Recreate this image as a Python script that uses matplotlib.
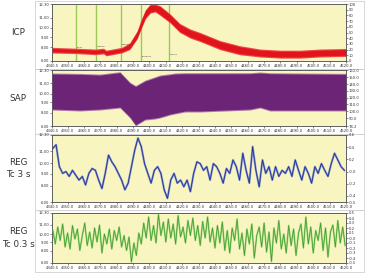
import numpy as np
import matplotlib.pyplot as plt
from matplotlib.patches import Rectangle

# time axis [s]
x_ticks = [4340.5, 4350, 4360, 4370, 4380, 4390, 4400, 4410, 4420, 4430, 4440,
           4450, 4460, 4470, 4480, 4490, 4500, 4510, 4520]
x_labels = ['%.1f' % v for v in x_ticks]

# left scale labels (same on every panel)
left_pos = [0.0, 0.24, 0.42, 0.58, 0.76, 1.0]
left_labels = ['6.00', '8.00', '9.00', '10.00', '11.00', '12.30']

# ICP band [mmHg]
icp_t = [4340.5, 4355, 4367, 4372, 4373.5, 4383, 4388, 4392.5, 4395, 4397.5, 4400.5,
         4403.5, 4406.5, 4412.5, 4418.5, 4425, 4431, 4443, 4455, 4467.5, 4480, 4492, 4504, 4520]
icp_lo = [14, 13, 11, 12.5, 9, 14, 20, 39, 57, 74, 84, 86, 80, 67, 50, 40, 34, 20, 11, 7, 5, 5, 7, 8]
icp_hi = [24, 22.5, 21, 22.5, 19, 24, 32, 53, 73, 90, 100, 100, 97, 83, 66, 56, 50, 36, 27, 21, 19, 19, 21, 22]
markers_t = [4355.2, 4367.4, 4382.6, 4394.8, 4411.9]
markers_txt = ['bolus', 'infusion', 'plateau', 'response', 'rsp 15']
markers_y = [23, 25, 28, 7, 11]

# SAP envelope [mmHg]
sap_t = [4340.5, 4357.6, 4369.8, 4382, 4388.1, 4391.5, 4397.3, 4403.4, 4406.4, 4412.5,
         4415.6, 4421.7, 4430.9, 4461.4, 4467.5, 4473.6, 4520]
sap_hi = [156.6, 156, 155, 158.5, 143, 138, 146, 151, 153.6, 155.5, 156.6, 157, 157,
          157, 158, 157, 156]
sap_lo = [101.8, 100.4, 101.8, 104.8, 90, 78.5, 87, 88.5, 90, 94.4, 96, 98.9, 98.9,
          101.8, 104.8, 100.4, 100.4]

# REG Tc 3 s [a.u.], sampled every 2 s from 4341
reg3 = [0.38, 0.44, 0.08, -0.03, 0.00, -0.08, 0.02, -0.06, -0.14, -0.08, -0.22, -0.03,
        0.05, 0.02, -0.14, -0.28, -0.03, 0.27, 0.16, 0.08, -0.03, -0.14, -0.30, -0.19,
        0.08, 0.35, 0.55, 0.41, 0.13, -0.03, -0.19, 0.02, 0.08, -0.03, -0.30, -0.44,
        -0.14, -0.03, -0.19, -0.14, -0.25, -0.14,
        -0.33, -0.03, 0.16, 0.13, 0.02, 0.08, -0.14, 0.13, 0.08, -0.03, -0.19, 0.05,
        -0.03, 0.19, 0.08, -0.14, 0.30, 0.02, -0.19, 0.41, 0.02, -0.25, 0.19, -0.03,
        0.08, -0.14, 0.08, -0.08, 0.02, -0.03, 0.08, -0.08, 0.19, 0.02, -0.14, 0.08,
        -0.03, -0.19, 0.08, -0.03, 0.13, 0.02, -0.08, 0.13, 0.30, 0.19, 0.08, 0.02]

# REG Tc 0.3 s [a.u.], sampled every 1.5 s from 4341
reg03 = [0.15, -0.12, 0.22, -0.05, 0.28, -0.18, 0.10, -0.22, 0.25, -0.02, 0.18, -0.25,
         0.05, 0.30, -0.15, 0.12, -0.20, 0.20, -0.08, 0.26, -0.30, 0.08, -0.12, 0.18,
         -0.22, 0.15, -0.05, 0.22, -0.18, 0.05,
         -0.25, 0.02, -0.48, -0.10, -0.35,
         0.10, -0.12, 0.30, 0.00, 0.42, -0.05, 0.25, -0.10, 0.47, 0.05, 0.32, -0.08,
         0.38, 0.00, 0.28, -0.12, 0.45, 0.02, 0.22, -0.10, 0.35, 0.05, 0.40, -0.05,
         0.25, -0.15, 0.33, 0.00, 0.42, -0.08, 0.20,
         -0.20, 0.25, -0.10, 0.32, -0.25, 0.15, -0.30, 0.20, -0.05, 0.38, -0.22, 0.10,
         -0.35, 0.18, -0.12, 0.28, -0.40, 0.05, 0.22, -0.18, 0.30, -0.28, 0.12, -0.47,
         0.20, -0.10, 0.35, -0.22, 0.08, -0.30, 0.25, -0.15, 0.18, -0.35, 0.10, 0.28,
         -0.20, 0.42, -0.12, 0.22, -0.30, 0.15, -0.05, 0.30, -0.25, 0.20, -0.38, 0.12,
         0.26, -0.18, 0.35, -0.10, 0.22, -0.15]
t3 = 4341 + 2.0 * np.arange(len(reg3))
t03 = 4341 + 1.5 * np.arange(len(reg03))

W, H = 367, 275
fig = plt.figure(figsize=(W / 100, H / 100), dpi=100)
fs = 2.7
bg = '#f9f5c1'


def panel(top, bottom, ylim, rticks, rlabels, name, box):
    # light frame around each panel
    fig.patches.append(Rectangle((35 / W, 1 - box[1] / H), 329 / W, (box[1] - box[0]) / H,
                                 transform=fig.transFigure, fc='white', ec='#c8c8c8', lw=0.5,
                                 zorder=-5))
    ax = fig.add_axes([52 / W, 1 - bottom / H, 294 / W, (bottom - top) / H])
    ax.set_facecolor(bg)
    ax.set_ylim(0, 1)
    ax.set_yticks(left_pos)
    ax.set_yticklabels(left_labels)
    ax.set_xlim(4340.5, 4520)
    ax.set_xticks(x_ticks)
    ax.set_xticklabels(x_labels)
    ax.tick_params(labelsize=fs, length=1.2, width=0.4, pad=0.8, colors='#333333')
    d = ax.twinx()
    d.set_ylim(*ylim)
    d.set_yticks(rticks)
    d.set_yticklabels(rlabels)
    d.tick_params(labelsize=fs, length=1.2, width=0.4, pad=0.8, colors='#333333')
    for a in (ax, d):
        for s in a.spines.values():
            s.set_linewidth(0.5)
            s.set_color('#555555')
    yc = 1 - (top + bottom) / 2 / H
    fig.text(18 / W, yc, name, ha='center', va='center', fontsize=6.3,
             color='#333333', linespacing=1.5)
    return d


# ICP
d1 = panel(4, 61, (0, 100), list(range(0, 101, 10)), [str(v) for v in range(0, 101, 10)],
           'ICP', (1, 69))
for t, txt, yy in zip(markers_t, markers_txt, markers_y):
    d1.axvline(t, color='#9cc955', lw=1.0, zorder=1)
    d1.text(t + 0.6, yy, txt, fontsize=1.6, color='#333333', zorder=3)
d1.fill_between(icp_t, icp_lo, icp_hi, color='#f0484a', lw=0, zorder=2)
d1.fill_between(icp_t, [a + 2 for a in icp_lo], [b - 2 for b in icp_hi],
                color='#e0141a', lw=0, zorder=2)

# SAP
sap_ticks = [78.2, 90, 100, 110, 120, 130, 140, 150, 161]
d2 = panel(70, 126, (78.2, 161), sap_ticks, ['%.1f' % v for v in sap_ticks], 'SAP', (69, 134))
d2.fill_between(sap_t, sap_lo, sap_hi, color='#b27aa8', lw=0, zorder=2)
d2.fill_between(sap_t, [a + 1.5 for a in sap_lo], [b - 1.5 for b in sap_hi],
                color='#6c2477', lw=0, zorder=2)

# REG Tc 3 s
r3 = [-0.5, -0.4, -0.2, 0.0, 0.2, 0.4, 0.6]
d3 = panel(135, 202, (-0.5, 0.6), r3, ['-0.5', '-0.4', '-0.2', '-0.0', '0.2', '0.4', '0.6'],
           'REG\nTc 3 s', (134, 210))
d3.plot(t3, reg3, color='#8595d0', lw=1.5, zorder=2)
d3.plot(t3, reg3, color='#22308e', lw=0.6, zorder=3)

# REG Tc 0.3 s
r03 = [-0.5, -0.4, -0.3, -0.2, -0.1, 0.0, 0.1, 0.2, 0.3, 0.4, 0.5]
d4 = panel(213, 263, (-0.5, 0.5), r03,
           ['-0.5', '-0.4', '-0.3', '-0.2', '-0.1', '-0.0', '0.1', '0.2', '0.3', '0.4', '0.5'],
           'REG\nTc 0.3 s', (210, 272))
d4.plot(t03, reg03, color='#a4d880', lw=1.3, zorder=2)
d4.plot(t03, reg03, color='#3d9b2a', lw=0.5, zorder=3)

fig.savefig('out.png', dpi=100)
